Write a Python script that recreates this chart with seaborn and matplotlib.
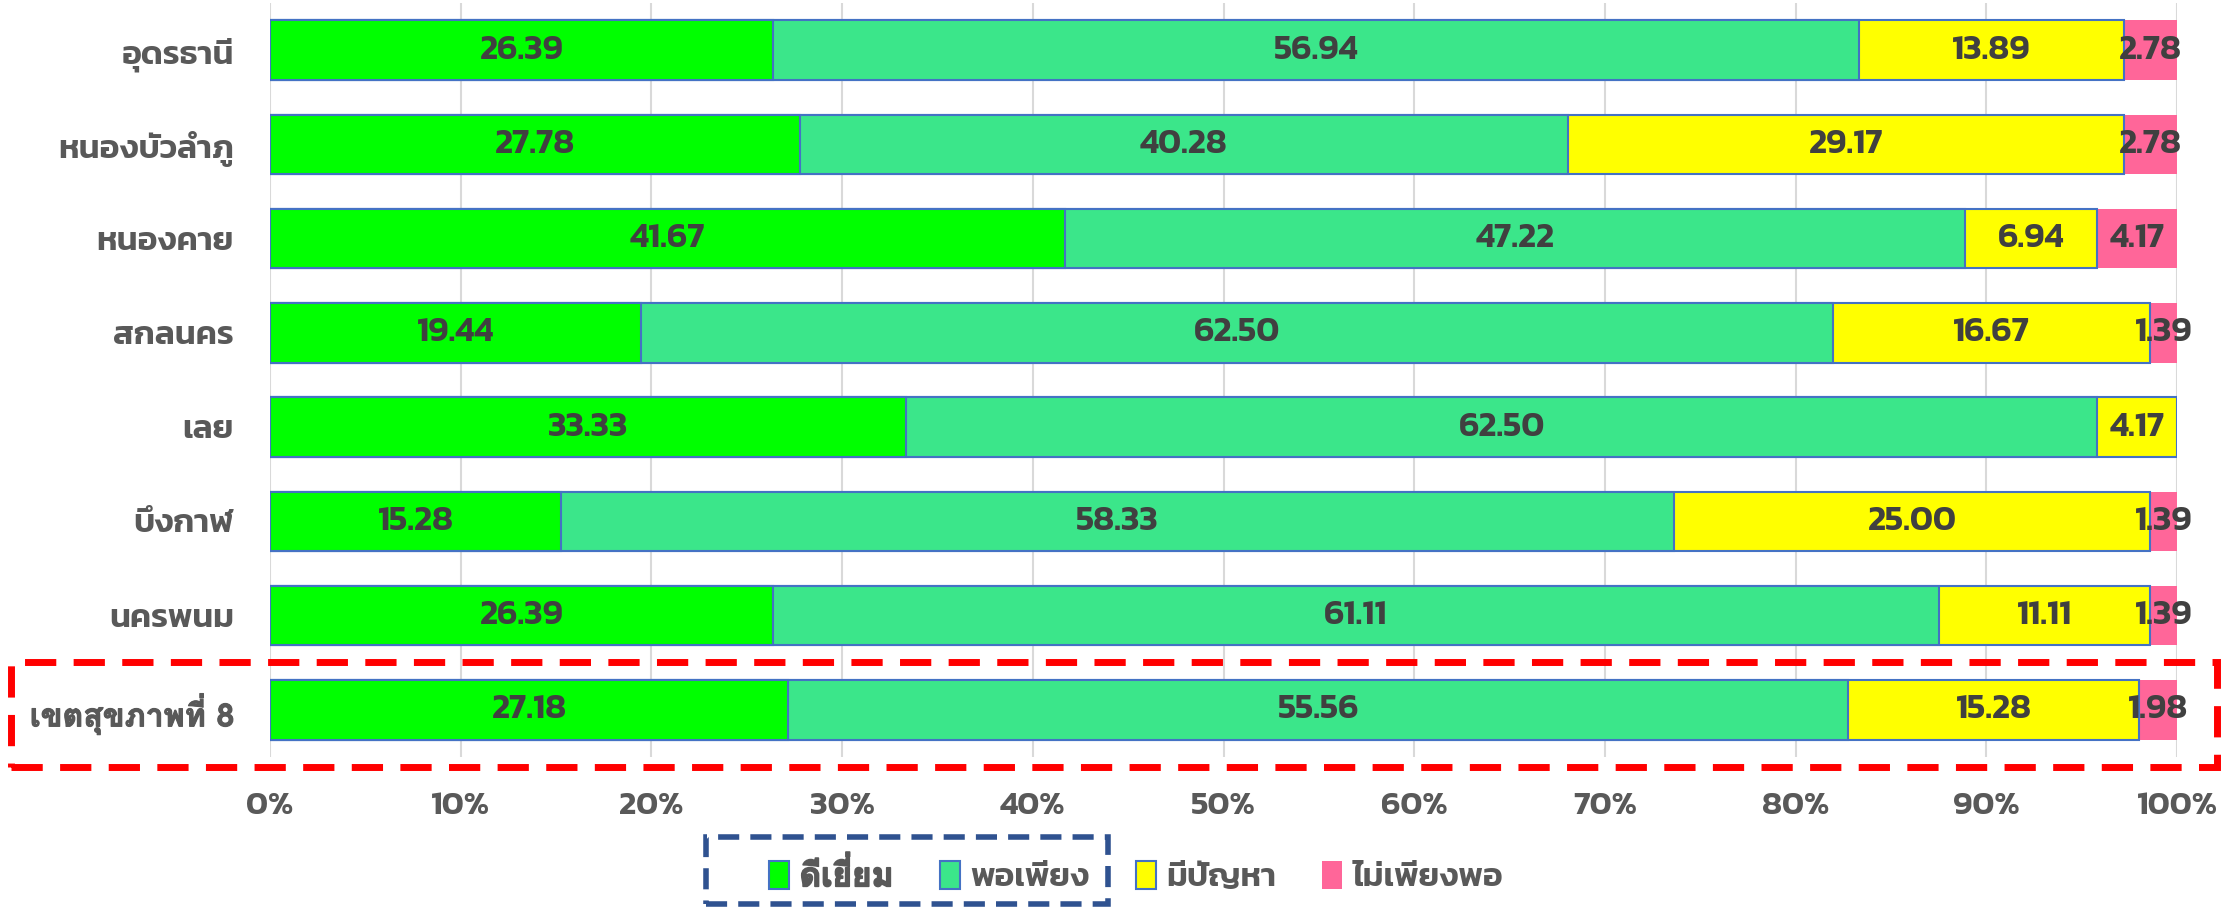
import matplotlib

matplotlib.use("Agg")

import matplotlib.patheffects as pe
import matplotlib.pyplot as plt
import numpy as np
import pandas as pd
import seaborn as sns
from matplotlib.patches import Rectangle

provinces = [
    "อุดรธานี",
    "หนองบัวลำภู",
    "หนองคาย",
    "สกลนคร",
    "เลย",
    "บึงกาฬ",
    "นครพนม",
    "เขตสุขภาพที่ 8",
]
series_names = ["ดีเยี่ยม", "พอเพียง", "มีปัญหา", "ไม่เพียงพอ"]
excellent = [26.39, 27.78, 41.67, 19.44, 33.33, 15.28, 26.39, 27.18]
sufficient = [56.94, 40.28, 47.22, 62.50, 62.50, 58.33, 61.11, 55.56]
problem = [13.89, 29.17, 6.94, 16.67, 4.17, 25.00, 11.11, 15.28]
insufficient = [2.78, 2.78, 4.17, 1.39, 0.0, 1.39, 1.39, 1.98]
x_ticks = [0, 10, 20, 30, 40, 50, 60, 70, 80, 90, 100]

colors = ["#00FF00", "#3BE68A", "#FFFF00", "#FF6699"]
edge_blue = "#4472C4"
label_color = "#404040"
tick_color = "#595959"

# Kanit has no shaping for stacked tone marks, Loma places them itself
stacked_font = ["Loma", "DejaVu Sans"]
heavier = [pe.withStroke(linewidth=0.8, foreground=tick_color)]

sns.set_style("white")
plt.rcParams["font.family"] = ["Kanit", "DejaVu Sans"]

values = np.array([excellent, sufficient, problem, insufficient])
cumulative = values.cumsum(axis=0)

fig = plt.figure(figsize=(22.28, 9.08), dpi=100)
ax = fig.add_axes([0.1212, 0.1663, 0.8559, 0.8305])

# draw cumulative layers from the widest down so each segment shows
for i in range(3, -1, -1):
    layer = pd.DataFrame({"province": provinces, "value": cumulative[i]})
    sns.barplot(
        data=layer,
        x="value",
        y="province",
        orient="h",
        color=colors[i],
        saturation=1,
        width=0.63,
        edgecolor=edge_blue if i < 3 else "none",
        linewidth=1.5,
        ax=ax,
    )

for i in range(4):
    for j, v in enumerate(values[i]):
        if v <= 0:
            continue
        center = cumulative[i][j] - v / 2
        ax.text(center, j, f"{v:.2f}", ha="center", va="center",
                fontsize=25, fontweight=600, color=label_color)

ax.set_xlim(0, 100)
ax.set_ylim(7.5, -0.5)
ax.set_xticks(x_ticks)
ax.set_xticklabels([f"{t}%" for t in x_ticks])
ax.set_yticks(range(len(provinces)))
ax.set_yticklabels(provinces)
ax.set_xlabel("")
ax.set_ylabel("")
ax.tick_params(axis="x", length=0, labelsize=24, labelcolor=tick_color, pad=25)
ax.tick_params(axis="y", length=0, labelsize=24, labelcolor=tick_color, pad=26)
for lbl in ax.get_xticklabels() + ax.get_yticklabels():
    lbl.set_fontweight(600)
for lbl in ax.get_yticklabels():
    if lbl.get_text() == "เขตสุขภาพที่ 8":
        lbl.set_fontfamily(stacked_font)
        lbl.set_fontweight("bold")
        lbl.set_fontsize(23)
        lbl.set_path_effects(heavier)
ax.xaxis.grid(True, color="#D9D9D9", linewidth=1.5)
ax.set_axisbelow(True)
for s in ax.spines.values():
    s.set_visible(False)

handles = [
    Rectangle((0, 0), 1, 1, facecolor=colors[i],
              edgecolor=edge_blue if i < 3 else "none", linewidth=1.5)
    for i in range(4)
]
leg = fig.legend(handles, series_names, loc="center", bbox_to_anchor=(0.51, 0.036),
                 ncol=4, frameon=False, handlelength=0.6, handleheight=0.9,
                 handletextpad=0.3, columnspacing=1.4, labelcolor=tick_color,
                 prop={"family": ["Kanit", "DejaVu Sans"], "weight": 600, "size": 24})
for t in leg.get_texts():
    if t.get_text() == "ดีเยี่ยม":
        t.set_fontfamily(stacked_font)
        t.set_fontweight("bold")
        t.set_fontsize(24)
        t.set_path_effects([pe.withStroke(linewidth=1.2, foreground=tick_color)])

# red dashed highlight around the regional total row
fig.add_artist(Rectangle((11 / 2228, 1 - 767 / 908), 2206 / 2228, 105 / 908,
                         transform=fig.transFigure, fill=False, edgecolor="#FF0000",
                         linewidth=5, linestyle=(0, (4.5, 2.5)), clip_on=False))
# blue dashed box around first two legend entries
fig.add_artist(Rectangle((706 / 2228, 1 - 904 / 908), 402 / 2228, 67 / 908,
                         transform=fig.transFigure, fill=False, edgecolor="#2F5290",
                         linewidth=4, linestyle=(0, (3.8, 2)), clip_on=False))

fig.savefig("out.png", dpi=100)
